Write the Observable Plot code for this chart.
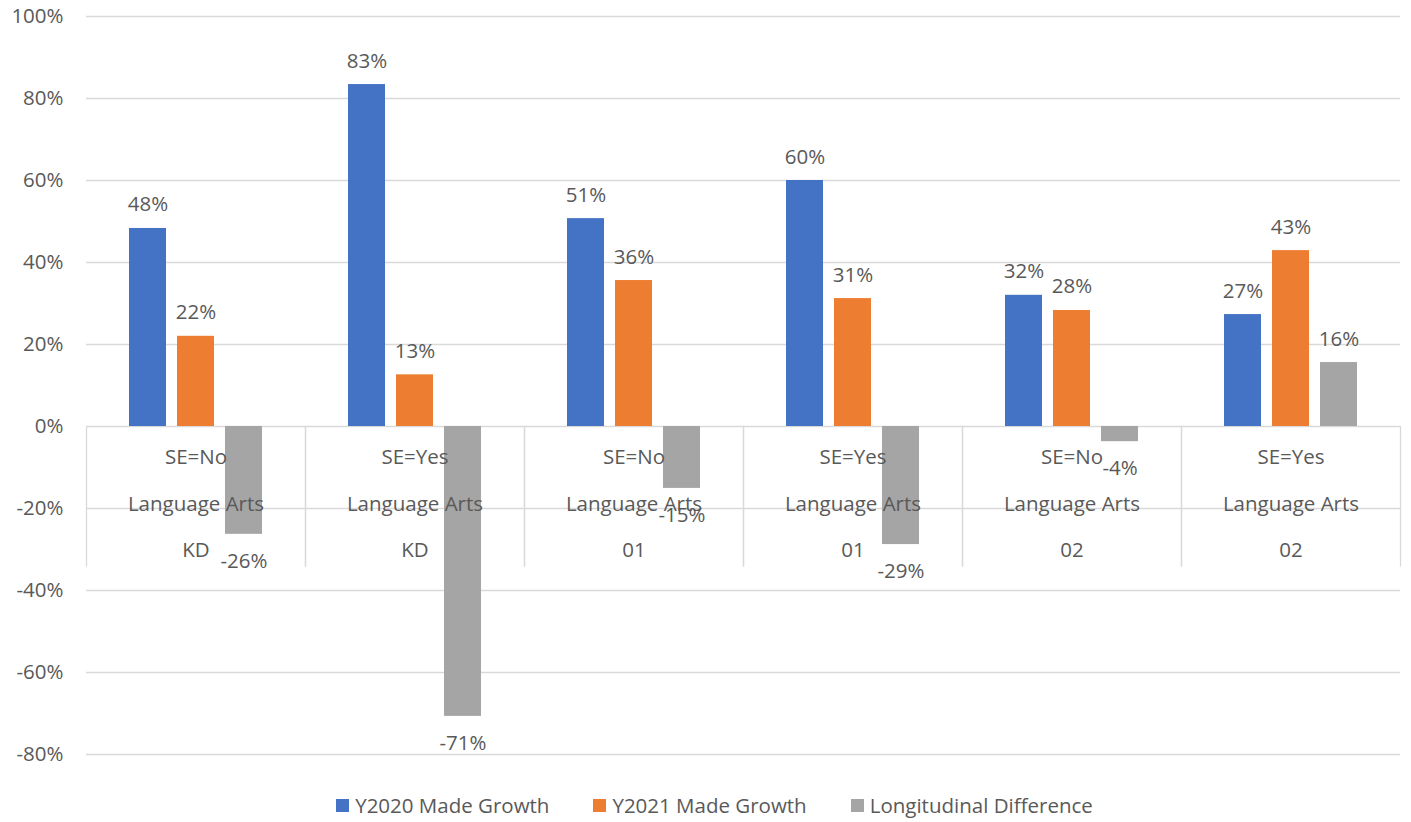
<!DOCTYPE html>
<html>
<head>
<meta charset="utf-8">
<script src="https://cdn.jsdelivr.net/npm/d3@7"></script>
<script src="https://cdn.jsdelivr.net/npm/@observablehq/plot@0.6"></script>
<style>
  html, body { margin: 0; padding: 0; background: #fff; }
  body { width: 1411px; height: 822px; overflow: hidden; font-family: "Open Sans", sans-serif; }
  #chart svg { display: block; }
  #legend { display: flex; justify-content: center; align-items: center; gap: 44px; height: 50px; margin: 0;
            font-size: 20.5px; color: #595959; padding-left: 18px; }
  #legend .item { display: flex; align-items: center; }
  #legend .sw { width: 13px; height: 13px; margin-right: 6px; display: inline-block; }
</style>
</head>
<body>
<div id="chart"></div>
<div id="legend"></div>
<script>
// ---- data ----
const grades = ["KD", "KD", "01", "01", "02", "02"];
const seLabels = ["SE=No", "SE=Yes", "SE=No", "SE=Yes", "SE=No", "SE=Yes"];
const subjects = ["Language Arts", "Language Arts", "Language Arts", "Language Arts", "Language Arts", "Language Arts"];
const seriesNames = ["Y2020 Made Growth", "Y2021 Made Growth", "Longitudinal Difference"];
const seriesColors = ["#4472C4", "#ED7D31", "#A5A5A5"];
const y2020 = [0.483, 0.834, 0.507, 0.600, 0.320, 0.273];
const y2021 = [0.220, 0.126, 0.356, 0.312, 0.283, 0.429];
const diff  = [-0.263, -0.707, -0.151, -0.288, -0.037, 0.156];
const yTicks = [-0.8, -0.6, -0.4, -0.2, 0, 0.2, 0.4, 0.6, 0.8, 1.0];

// ---- build table ----
const groupKeys = grades.map((g, i) => `${g}|${seLabels[i]}`);
const groups = groupKeys.map((k, i) => ({key: k, grade: grades[i], se: seLabels[i], subject: subjects[i]}));
const seriesValues = [y2020, y2021, diff];
const rows = [];
groupKeys.forEach((k, i) => {
  seriesNames.forEach((s, j) => rows.push({group: k, series: s, value: seriesValues[j][i]}));
});

const pct = v => `${Math.round(v * 100)}%`;
const W = 1411, H = 780, mTop = 16, mBottom = 26, mLeft = 85, mRight = 11;
const yMin = -0.8, yMax = 1.0;
const innerH = H - mTop - mBottom;
const yPix = v => (yMax - v) / (yMax - yMin) * innerH; // offset inside frame
const sepBottom = -0.34;
const font = "'Open Sans', sans-serif";
const textColor = "#595959";
const fs = 20.5;

const chart = Plot.plot({
  width: W, height: H,
  marginTop: mTop, marginBottom: mBottom, marginLeft: mLeft, marginRight: mRight,
  style: {fontFamily: font, fontSize: `${fs}px`, color: textColor, background: "#fff"},
  fx: {domain: groupKeys, padding: 0, axis: null},
  x: {domain: seriesNames, paddingInner: 0.224, paddingOuter: 0.847, axis: null},
  y: {domain: [yMin, yMax], axis: null},
  color: {domain: seriesNames, range: seriesColors},
  marks: [
    Plot.ruleY(yTicks, {stroke: "#d9d9d9", strokeWidth: 1.3}),
    Plot.frame({anchor: "left", stroke: "#d9d9d9", strokeWidth: 1.3, insetTop: yPix(0), insetBottom: innerH - yPix(sepBottom)}),
    Plot.frame({anchor: "right", stroke: "#d9d9d9", strokeWidth: 1.3, insetTop: yPix(0), insetBottom: innerH - yPix(sepBottom)}),
    Plot.axisY({ticks: yTicks, tickFormat: pct, tickSize: 0, tickPadding: 23, fill: textColor, fontSize: fs, label: null}),
    Plot.barY(rows, {fx: "group", x: "series", y: "value", fill: "series"}),
    Plot.text(groups, {fx: "key", y: 0, text: "se", dy: 31, fill: textColor, fontSize: fs}),
    Plot.text(groups, {fx: "key", y: 0, text: "subject", dy: 78, fill: textColor, fontSize: fs}),
    Plot.text(groups, {fx: "key", y: 0, text: "grade", dy: 124, fill: textColor, fontSize: fs}),
    Plot.text(rows.filter(d => d.value >= 0), {fx: "group", x: "series", y: "value", text: d => pct(d.value),
      lineAnchor: "bottom", dy: -17, fill: textColor, fontSize: fs}),
    Plot.text(rows.filter(d => d.value < 0), {fx: "group", x: "series", y: "value", text: d => pct(d.value),
      lineAnchor: "top", dy: 19, fill: textColor, fontSize: fs})
  ]
});
document.getElementById("chart").appendChild(chart);

const legend = document.getElementById("legend");
seriesNames.forEach((s, i) => {
  const item = document.createElement("div");
  item.className = "item";
  const sw = document.createElement("span");
  sw.className = "sw";
  sw.style.background = seriesColors[i];
  item.appendChild(sw);
  item.appendChild(document.createTextNode(s));
  legend.appendChild(item);
});
</script>
</body>
</html>
